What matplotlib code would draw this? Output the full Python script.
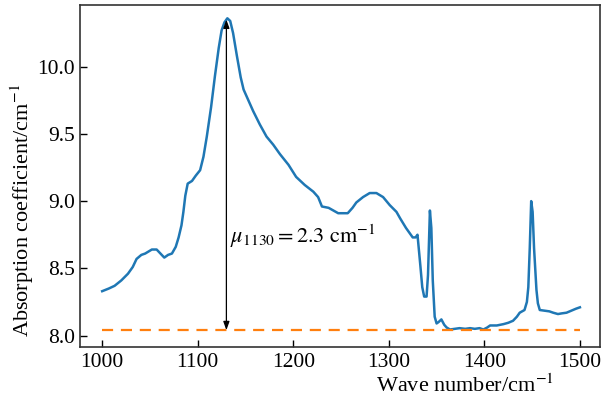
import matplotlib.pyplot as plt

plt.rcParams['font.family'] = ['Liberation Serif', 'DejaVu Serif']
plt.rcParams['mathtext.fontset'] = 'stix'

wave = [1000, 1007, 1013, 1020, 1027, 1032, 1036, 1041, 1045, 1052,
        1057, 1061, 1065, 1069, 1073, 1077, 1080, 1083, 1085, 1087,
        1089.5, 1094, 1098, 1102.5, 1106, 1109.5, 1114, 1118, 1122, 1125,
        1128, 1131, 1134, 1137, 1141, 1145, 1148, 1153, 1158, 1165,
        1172, 1179, 1186, 1195, 1203, 1212, 1221, 1226, 1230, 1237,
        1242, 1247, 1252, 1257, 1262, 1266, 1273, 1280, 1287, 1294,
        1301, 1308, 1312, 1318, 1325, 1328, 1330, 1333, 1335, 1337,
        1339.5, 1341, 1343, 1344.5, 1346, 1348, 1350, 1352, 1355, 1358,
        1360.5, 1364, 1369, 1374, 1380, 1385, 1390, 1395, 1399, 1403,
        1406, 1413, 1420, 1425, 1430, 1434, 1437, 1442, 1444.5, 1446,
        1447.5, 1449, 1450.5, 1452, 1454.5, 1456, 1458, 1463, 1468, 1472,
        1477, 1481, 1486, 1491, 1496, 1500]
absorb = [8.33, 8.35, 8.37, 8.41, 8.46, 8.51, 8.57, 8.60, 8.61, 8.64,
          8.64, 8.61, 8.58, 8.60, 8.61, 8.66, 8.73, 8.82, 8.92, 9.04,
          9.13, 9.15, 9.19, 9.23, 9.33, 9.48, 9.70, 9.93, 10.14, 10.27,
          10.33, 10.36, 10.34, 10.25, 10.08, 9.92, 9.83, 9.75, 9.67, 9.57,
          9.48, 9.42, 9.35, 9.27, 9.18, 9.12, 9.07, 9.03, 8.96, 8.95,
          8.93, 8.91, 8.91, 8.91, 8.95, 8.99, 9.03, 9.06, 9.06, 9.03,
          8.97, 8.92, 8.87, 8.80, 8.73, 8.73, 8.75, 8.52, 8.36, 8.29,
          8.29, 8.45, 8.93, 8.80, 8.41, 8.14, 8.09, 8.10, 8.12, 8.08,
          8.06, 8.045, 8.05, 8.055, 8.05, 8.055, 8.05, 8.055, 8.045, 8.06,
          8.075, 8.075, 8.085, 8.095, 8.11, 8.14, 8.17, 8.19, 8.25, 8.36,
          8.65, 9.00, 8.92, 8.65, 8.34, 8.24, 8.19, 8.185, 8.18, 8.17,
          8.16, 8.165, 8.17, 8.185, 8.20, 8.21]

baseline_x = [1000, 1500]
baseline_y = [8.04, 8.04]
peak_x = 1130
peak_y = 10.36

fig = plt.figure(figsize=(6.03, 4.03), dpi=100)
ax = fig.add_axes([0.133, 0.139, 0.862, 0.849])

ax.plot(wave, absorb, color='#1f77b4', lw=1.8)
ax.plot(baseline_x, baseline_y, color='#ff7f0e', lw=1.6, ls='--', dashes=(5, 3.5))

# double arrow for the peak height
ax.annotate('', xy=(peak_x, peak_y - 0.01), xytext=(peak_x, baseline_y[0]),
            arrowprops=dict(arrowstyle='<|-|>,head_length=0.5,head_width=0.18',
                            color='k', lw=0.9, shrinkA=0, shrinkB=0))
ax.text(peak_x + 4, 8.74, r'$\mu_{1130} = 2.3\ \mathrm{cm}^{-1}$', fontsize=16,
        va='center', ha='left')

ax.set_xlim(977, 1521)
ax.set_ylim(7.915, 10.46)
ax.set_xticks([1000, 1100, 1200, 1300, 1400, 1500])
ax.set_yticks([8.0, 8.5, 9.0, 9.5, 10.0])
ax.tick_params(direction='in', labelsize=15.5, length=5, width=1, pad=4)
for s in ax.spines.values():
    s.set_linewidth(1.2)
    s.set_color('#333333')

ax.set_xlabel(r'Wave number/cm$^{-1}$', fontsize=16)
ax.xaxis.set_label_coords(0.74, -0.08)
ax.set_ylabel(r'Absorption coefficient/cm$^{-1}$', fontsize=16)
ax.yaxis.set_label_coords(-0.085, 0.40)

fig.savefig('out.png', dpi=100)
